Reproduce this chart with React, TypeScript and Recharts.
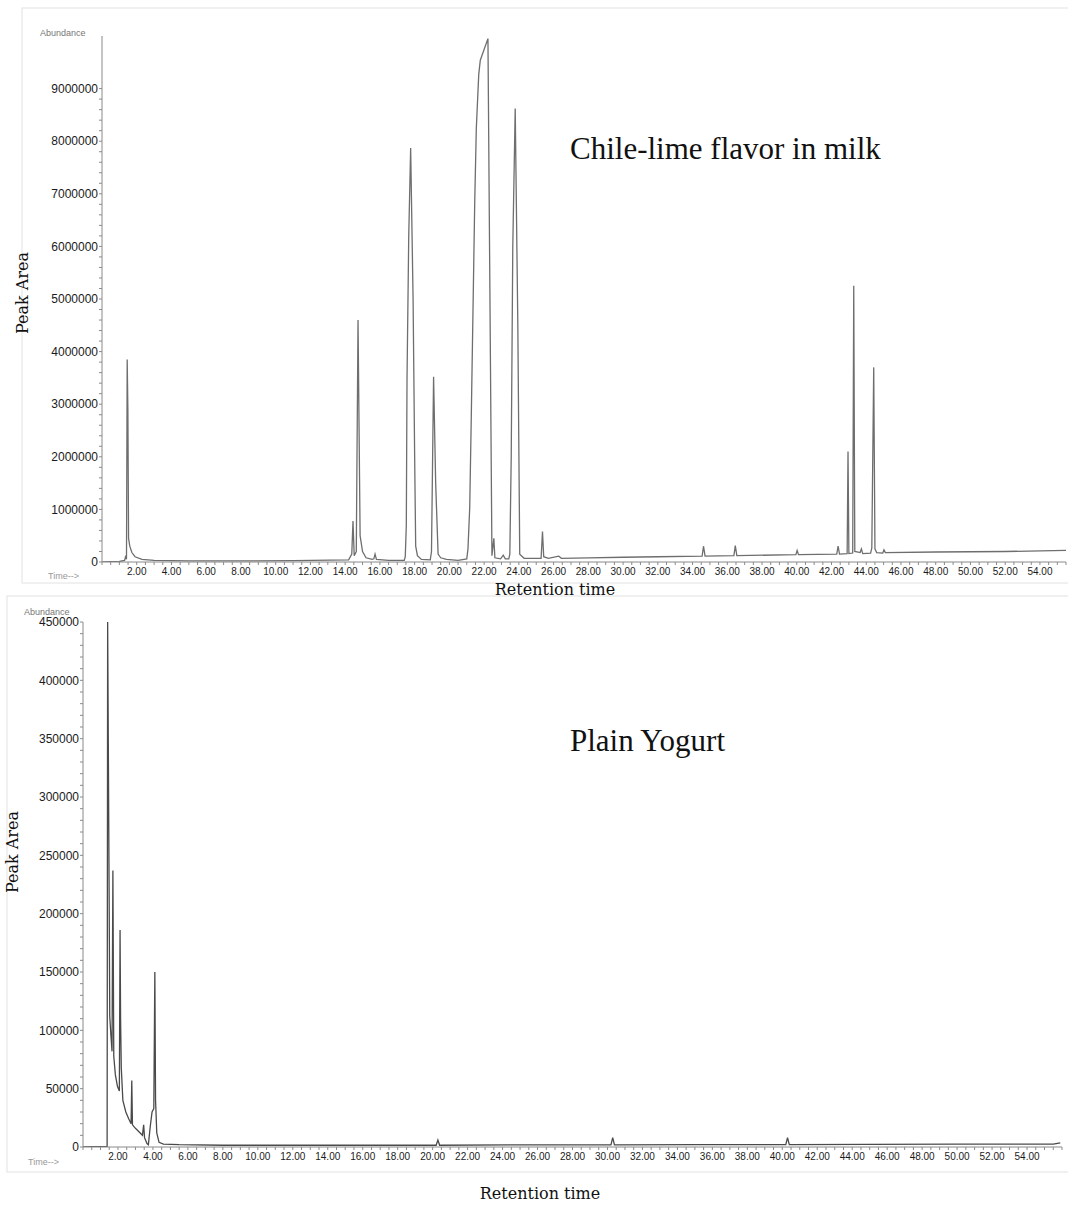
import React from "react";
import { LineChart, Line, XAxis, YAxis } from "recharts";

// ---------- Data: Chile-lime flavor in milk (retention time in min, abundance) ----------
const milkTime = [
  0, 1.0, 1.3, 1.37, 1.41, 1.45, 1.49, 1.53, 1.6, 1.72, 1.9, 2.3, 3.0, 5.0, 8.0, 11.0,
  14.2, 14.38, 14.45, 14.52, 14.64, 14.74, 14.86, 15.0, 15.2, 15.55, 15.65, 15.72, 15.8,
  16.5, 17.4, 17.46, 17.52, 17.56, 17.66, 17.77, 17.91, 18.0, 18.06, 18.16, 18.39, 18.9,
  18.97, 19.09, 19.21, 19.35, 19.5, 19.83, 20.5, 21.0, 21.07, 21.17, 21.26, 21.36, 21.46,
  21.55, 21.69, 21.78, 22.22, 22.45, 22.56, 22.62, 22.95, 23.1, 23.22, 23.42, 23.48,
  23.56, 23.65, 23.79, 23.94, 24.05, 24.3, 25.28, 25.36, 25.43, 25.7, 26.3, 26.45, 28.0,
  30.0, 32.0, 34.55, 34.63, 34.72, 36.38, 36.46, 36.55, 39.95, 40.02, 40.1, 42.3, 42.38,
  42.46, 42.9, 42.95, 43.0, 43.22, 43.28, 43.34, 43.65, 43.72, 43.8, 44.25, 44.32, 44.43,
  44.5, 44.6, 44.95, 45.02, 45.1, 48.0, 52.0, 55.5,
];
const milkAbundance = [
  0, 10000, 30000, 120000, 50000, 3850000, 2900000, 450000, 300000, 180000, 100000, 50000,
  30000, 20000, 20000, 25000, 40000, 150000, 780000, 120000, 200000, 4600000, 500000,
  200000, 80000, 50000, 60000, 150000, 50000, 30000, 30000, 100000, 700000, 3450000,
  6200000, 7870000, 5000000, 2000000, 300000, 120000, 50000, 40000, 200000, 3520000,
  1500000, 150000, 80000, 50000, 30000, 60000, 250000, 1030000, 2750000, 4800000, 6860000,
  8240000, 9270000, 9540000, 9950000, 120000, 450000, 80000, 60000, 130000, 60000, 60000,
  150000, 2000000, 6000000, 8620000, 4500000, 150000, 70000, 70000, 580000, 100000, 70000,
  110000, 70000, 80000, 90000, 100000, 110000, 300000, 110000, 120000, 310000, 120000,
  140000, 220000, 140000, 150000, 300000, 150000, 160000, 2100000, 160000, 170000, 5250000,
  200000, 180000, 250000, 160000, 170000, 270000, 3700000, 250000, 180000, 170000, 230000,
  180000, 190000, 200000, 220000,
];

// ---------- Data: Plain Yogurt ----------
const yogurtTime = [
  0, 1.38, 1.41, 1.45, 1.49, 1.53, 1.6, 1.66, 1.71, 1.76, 1.85, 1.97, 2.08, 2.12, 2.15,
  2.19, 2.28, 2.45, 2.62, 2.75, 2.79, 2.83, 3.0, 3.2, 3.4, 3.47, 3.52, 3.66, 3.74, 3.85,
  3.95, 4.05, 4.11, 4.15, 4.22, 4.35, 4.6, 5.5, 8.0, 12.0, 16.0, 20.2, 20.3, 20.4, 25.0,
  30.2, 30.3, 30.4, 35.0, 40.2, 40.3, 40.4, 45.0, 50.0, 55.5, 55.9,
];
const yogurtAbundance = [
  0, 500, 450000, 340000, 230000, 112000, 95000, 82000, 237000, 78000, 62000, 52000, 48000,
  186000, 110000, 68000, 40000, 30000, 24000, 20000, 57000, 19000, 16000, 13000, 10000,
  19000, 8000, 3000, 2000, 18000, 30000, 33000, 150000, 40000, 12000, 4000, 2500, 2000,
  1500, 1500, 1500, 1500, 6000, 1500, 1800, 1800, 8000, 1800, 2000, 2000, 8000, 2000,
  2200, 2500, 2500, 3500,
];

// ---------- Axis ticks ----------
const xLabelTicks = [
  2, 4, 6, 8, 10, 12, 14, 16, 18, 20, 22, 24, 26, 28, 30, 32, 34, 36, 38, 40, 42, 44, 46,
  48, 50, 52, 54,
];
const milkYTicks = [
  0, 1000000, 2000000, 3000000, 4000000, 5000000, 6000000, 7000000, 8000000, 9000000,
];
const yogurtYTicks = [
  0, 50000, 100000, 150000, 200000, 250000, 300000, 350000, 400000, 450000,
];

const milkData = milkTime.map((t, i) => ({ t, a: milkAbundance[i] }));
const yogurtData = yogurtTime.map((t, i) => ({ t, a: yogurtAbundance[i] }));

function minorTicks(max: number, step: number) {
  const out: number[] = [];
  for (let i = 0; i * step <= max + 1e-9; i++) out.push(Math.round(i * step * 1000) / 1000);
  return out;
}

const AXIS = "#8a8a8a";
const TICKFONT = "Liberation Sans, Arial, sans-serif";

type ChromProps = {
  data: { t: number; a: number }[];
  top: number;
  height: number;
  margin: { top: number; right: number; bottom: number; left: number };
  xMax: number;
  yMax: number;
  yLabels: number[];
  yMinorStep: number;
  yWidth: number;
  stroke: string;
};

function Chromatogram(p: ChromProps) {
  const xMajor = new Set(xLabelTicks);
  const yMajor = new Set(p.yLabels);
  return (
    <div style={{ position: "absolute", left: 0, top: p.top, width: 1068, height: p.height }}>
      <LineChart width={1068} height={p.height} data={p.data} margin={p.margin}>
        <XAxis
          type="number"
          dataKey="t"
          domain={[0, p.xMax]}
          allowDataOverflow
          ticks={minorTicks(p.xMax, 0.5)}
          interval={0}
          tickFormatter={(v: number) => (xMajor.has(v) ? v.toFixed(2) : "")}
          tick={{ fontSize: 10, fill: "#1a1a1a", fontFamily: TICKFONT }}
          stroke={AXIS}
          tickSize={3}
          tickMargin={3}
          height={20}
        />
        <YAxis
          type="number"
          domain={[0, p.yMax]}
          allowDataOverflow
          ticks={minorTicks(p.yMax, p.yMinorStep).filter((v) => v <= p.yLabels[p.yLabels.length - 1])}
          interval={0}
          tickFormatter={(v: number) => (yMajor.has(v) ? String(v) : "")}
          tick={{ fontSize: 12, fill: "#1a1a1a", fontFamily: TICKFONT }}
          stroke={AXIS}
          tickSize={3}
          tickMargin={1}
          width={p.yWidth}
        />
        <Line
          type="linear"
          dataKey="a"
          stroke={p.stroke}
          strokeWidth={1.3}
          dot={false}
          isAnimationActive={false}
        />
      </LineChart>
    </div>
  );
}

export default function App() {
  const serif = "DejaVu Serif, serif";
  return (
    <div style={{ position: "absolute", left: 0, top: 0, width: 1068, height: 1207, background: "#fff" }}>
      <svg
        width={1068}
        height={1207}
        style={{ position: "absolute", left: 0, top: 0 }}
      >
        <rect x={22} y={8} width={1060} height={575} fill="none" stroke="#e2e2e2" />
        <rect x={7} y={596} width={1075} height={576} fill="none" stroke="#e2e2e2" />
      </svg>

      <Chromatogram
        data={milkData}
        top={0}
        height={590}
        margin={{ top: 36, right: 2, bottom: 8, left: 22 }}
        xMax={55.5}
        yMax={10000000}
        yLabels={milkYTicks}
        yMinorStep={200000}
        yWidth={80}
        stroke="#6e6e6e"
      />
      <Chromatogram
        data={yogurtData}
        top={590}
        height={600}
        margin={{ top: 32, right: 6, bottom: 23, left: 13 }}
        xMax={56}
        yMax={450000}
        yLabels={yogurtYTicks}
        yMinorStep={10000}
        yWidth={70}
        stroke="#4a4a4a"
      />

      <svg
        width={1068}
        height={1207}
        style={{ position: "absolute", left: 0, top: 0, pointerEvents: "none" }}
      >
        <text x={40} y={36} fontSize={9} fill="#777" fontFamily={TICKFONT}>Abundance</text>
        <text x={48} y={579} fontSize={9} fill="#999" fontFamily={TICKFONT}>Time--&gt;</text>
        <text x={24} y={615} fontSize={9} fill="#777" fontFamily={TICKFONT}>Abundance</text>
        <text x={28} y={1165} fontSize={9} fill="#999" fontFamily={TICKFONT}>Time--&gt;</text>

        <text
          x={22}
          y={293}
          transform="rotate(-90 22 293)"
          textAnchor="middle"
          dominantBaseline="central"
          fontSize={16}
          fill="#111"
          fontFamily={serif}
        >
          Peak Area
        </text>
        <text
          x={12}
          y={852}
          transform="rotate(-90 12 852)"
          textAnchor="middle"
          dominantBaseline="central"
          fontSize={16}
          fill="#111"
          fontFamily={serif}
        >
          Peak Area
        </text>
        <text x={555} y={595} textAnchor="middle" fontSize={16} fill="#111" fontFamily={serif}>
          Retention time
        </text>
        <text x={540} y={1199} textAnchor="middle" fontSize={16} fill="#111" fontFamily={serif}>
          Retention time
        </text>

        <text x={570} y={159} fontSize={31} fill="#111" fontFamily="Liberation Serif, serif">
          Chile-lime flavor in milk
        </text>
        <text x={570} y={751} fontSize={31} fill="#111" fontFamily="Liberation Serif, serif">
          Plain Yogurt
        </text>
      </svg>
    </div>
  );
}
